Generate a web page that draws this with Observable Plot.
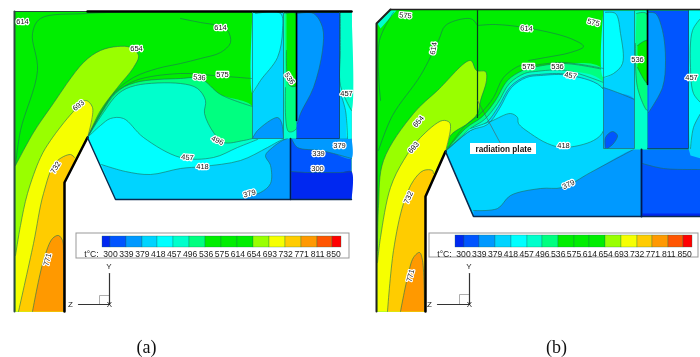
<!DOCTYPE html>
<html><head><meta charset="utf-8">
<style>html,body{margin:0;padding:0;background:#fff;width:700px;height:357px;overflow:hidden}svg{display:block;filter:blur(0.4px)}</style>
<script src="https://cdn.jsdelivr.net/npm/d3@7"></script>
<script src="https://cdn.jsdelivr.net/npm/@observablehq/plot@0.6"></script>
</head><body><script>
const levels = [300,339,379,418,457,496,536,575,614,654,693,732,771,811,850];
const swatchColors = ["#0028f0","#0055ff","#0099ff","#00d4ff","#00ffff","#00ffcc","#00ff80","#00ee00","#00ee00","#00ee00","#99ff00","#f6ff00","#ffcc00","#ff9900","#ff5500","#ff0000"];
const [c300,c339,c379,c418,c457,c496,c536,c575,,,c654,c693,c732,c771] = swatchColors;
const cUpperB = "#0077ff";

const swatchEdgesA = [102,110,126,142,157,173,189,205,221,237,253,269,285,301,317,332,341];
const swatchEdgesB = [455,464,479,495,511,527,542,558,574,589,605,621,637,652,668,683,692];

// Panel (a): filled bands, painted in order [colour, contour points, corner points]
const bandsA = [
 [c575, [], [[14,11],[351,11],[351,199],[115,199],[87,137],[64,182],[64,311],[14,311]]],
 [c654, [[15,165],[33,132],[50,107],[83,62],[100,50],[117,46],[130,47],[138,55],[133,67],[117,87],[100,110],[87,137]], [[64,182],[64,311],[15,311]]],
 [c693, [[15,255],[20,225],[27,193],[40,157],[50,140],[72,112],[85,100],[92,107],[87,137]], [[64,182],[64,311],[15,311]]],
 [c732, [[18,311],[33,243],[43,193],[55,162],[70,154],[74,157]], [[64,182],[64,311]]],
 [c771, [[32,311],[43,260],[52,238],[58,235],[62,240],[63,253],[63,311]], []],
 [c536, [[87,137],[102,110],[115,92],[135,82],[180,78],[200,78],[220,94],[252,106]], [[252,138],[290,138],[290,199],[115,199]]],
 [c496, [[87,137],[103,112],[118,93],[135,85],[180,83],[197,88],[205,100],[204,113],[213,132],[223,142],[243,140],[252,138]], [[290,138],[290,199],[115,199]]],
 [c457, [[87,137],[100,125],[110,118],[123,118],[143,137],[180,157],[213,157],[237,147],[257,139]], [[290,138],[290,199],[115,199]]],
 [c418, [[101,164],[125,171],[150,174],[180,168],[202,166],[240,160],[267,147],[280,140],[287,138]], [[290,138],[290,199],[115,199]]],
 [c379, [[243,197],[260,192],[270,183],[270,165],[265,155],[272,147],[282,140],[287,138]], [[290,138],[290,199],[243,199]]],
 [c339, [], [[290,138],[351,138],[351,199],[290,199]]],
 [c379, [[292,140],[297,147],[320,150],[333,153],[351,158]], [[351,138],[292,138]]],
 [c300, [[291,171],[307,172],[323,172],[340,172],[351,171]], [[351,199],[291,199]]],
 [c418, [], [[252,12],[283,12],[283,138],[252,138]]],
 [c457, [[255,13],[280,13],[282,30],[277,57],[260,80],[252,93]], [[252,12]]],
 [c379, [[252,138],[257,130],[277,117],[281,122],[283,138]], []],
 [c496, [], [[283,12],[296,12],[296,138],[283,138]]],
 [c536, [[284,13],[296,13],[296,128],[288,131],[285,87]], []],
 [c575, [[286,13],[295,13],[296,85],[289,85],[286,50]], []],
 [c339, [], [[296,12],[339,12],[339,138],[296,138]]],
 [c379, [[297,13],[313,13],[322,27],[322,50],[313,87],[300,113],[297,123]], []],
 [c418, [], [[339,12],[351,12],[351,138],[339,138]]],
 [c457, [[339,90],[345,110],[347,138]], [[351,138],[351,12],[339,12]]],
 [c496, [[340,12],[340,50],[340,85],[351,110]], [[351,12]]]
];
// Panel (b)
const bandsB = [
 [c575, [], [[376,23],[390,9],[700,9],[700,216],[473,216],[445,151],[425,196],[425,311],[376,311]]],
 [c496, [], [[377,23],[390,10],[396,10],[380,28]]],
 [c654, [[377,250],[378,205],[383,160],[413,113],[437,90],[470,60],[476,70],[485,71],[486,80],[480,100],[477,113],[467,123],[450,135],[445,151]], [[425,196],[425,311],[376,311]]],
 [c693, [[377,262],[380,237],[390,187],[403,160],[420,137],[442,120],[449,122],[450,128],[445,151]], [[425,196],[425,311],[377,311]]],
 [c732, [[387,311],[393,250],[403,203],[413,180],[423,170],[432,170],[433,173]], [[425,196],[425,311]]],
 [c771, [[400,311],[407,277],[413,257],[419,252],[422,260],[424,311]], []],
 [c536, [[445,151],[465,128],[482,116],[495,100],[507,80],[522,70],[532,67],[563,63],[603,69]], [[603,149],[641,149],[641,216],[473,216]]],
 [c496, [[445,151],[470,128],[484,119],[497,103],[509,83],[524,73],[535,71],[565,70],[603,82]], [[603,149],[641,149],[641,216],[473,216]]],
 [c418, [[445,151],[470,130],[486,122],[498,106],[510,86],[525,76],[538,74],[568,74],[603,88]], [[603,149],[641,149],[641,216],[473,216]]],
 [c457, [[448,148],[470,130],[487,124],[499,108],[511,87],[526,77],[540,75],[570,75],[603,89],[603,130],[593,140],[563,147],[547,143],[530,133],[518,123],[517,117],[510,113],[490,121],[470,128]], []],
 [c379, [[473,210],[497,208],[510,195],[540,188],[562,187],[590,172],[633,149]], [[641,149],[641,216],[473,216]]],
 [c339, [], [[641,149],[700,149],[700,216],[641,216]]],
 [cUpperB, [[642,163],[663,168],[697,169],[700,169]], [[700,149],[642,149]]],
 [c300, [], [[642,213],[700,213],[700,216],[642,216]]],
 [c418, [], [[603,10],[634,10],[634,149],[603,149]]],
 [c457, [[605,12],[615,13],[620,33],[622,63],[613,73],[603,77]], [[603,10]]],
 [c379, [[603,87],[617,92],[634,99]], [[634,148],[603,148]]],
 [c339, [[605,148],[605,137],[612,131],[617,135],[613,143],[607,148]], []],
 [c496, [], [[634,10],[647,10],[647,149],[634,149]]],
 [c536, [[636,13],[646,13],[647,110],[637,87],[635,43]], []],
 [c575, [[637,45],[647,40],[647,83],[637,67]], []],
 [c339, [], [[647,10],[688,10],[688,148],[647,148]]],
 [c379, [[648,12],[655,13],[662,30],[665,60],[662,87],[648,112]], []],
 [c418, [], [[688,10],[700,10],[700,158],[690,155],[688,148]]],
 [c457, [[700,113],[693,127],[690,148]], [[688,10],[700,10]]],
 [c496, [[700,18],[692,30],[690,67],[693,93],[700,102]], []]
];
// Contour lines without a colour change
const extraLines = [
 [[15,165],[20,130],[37,70],[32,33],[40,18],[87,13],[140,11]],
 [[87,137],[100,113],[113,93],[133,77],[157,68],[180,63],[200,58],[220,52],[230,42],[227,30],[217,25],[200,22],[180,18]],
 [[87,137],[102,111],[115,93],[135,80],[180,73],[213,75],[251,78]],
 [[378,150],[392,115],[420,75],[438,40],[445,25],[465,18],[472,19],[477,25]],
 [[477,25],[495,24],[530,28],[570,38],[583,46],[570,52],[545,57],[528,60]],
 [[445,151],[463,127],[480,113],[493,97],[503,77],[520,65],[530,65],[563,62],[603,68]],
 [[380,100],[379,40],[393,12]]
];
// Walls: [points, colour, width]
const wallsA = [
 [[[14,11],[14,311]], "#2c4a40", 2],
 [[[14,11],[87,11]], "#2c4a40", 1],
 [[[87,11],[351,11]], "#000", 2.5],
 [[[64,311],[64,182],[87,137]], "#000", 2.5],
 [[[87,137],[115,199],[351,199]], "#0a2a50", 1.4],
 [[[290,138],[290,199]], "#001a50", 1.6],
 [[[296,12],[296,120]], "#000", 1.6],
 [[[252,12],[252,138],[283,138],[283,12]], "#1f7a7a", 0.8],
 [[[296,138],[339,138],[339,12]], "#0a3a70", 0.8]
];
const wallsB = [
 [[[390,9],[376,23],[376,311]], "#222", 2],
 [[[390,9],[700,9]], "#222", 1.6],
 [[[425,311],[425,196],[445,151]], "#000", 2.5],
 [[[445,151],[473,216],[700,216]], "#0a2a50", 1.6],
 [[[641,149],[641,216]], "#001a50", 1.8],
 [[[477,10],[477,117]], "#0a3a20", 1.2],
 [[[647,10],[647,84]], "#000", 1.6],
 [[[603,10],[603,148],[634,148],[634,10]], "#1f7a7a", 0.8],
 [[[647,148],[688,148],[688,10]], "#0a3a70", 0.8],
 [[[477,100],[500,143]], "#555", 0.6]
];
const contourLabels = [
 ["614",22,21,0],["654",136,48,0],["693",78,105,-40],["614",220,27,0],["536",199,77,5],["575",222,74,0],
 ["496",217,140,25],["457",187,157,5],["418",202,166,0],["379",249,193,-15],["732",55,167,-60],["771",47,259,-75],
 ["339",318,153,0],["300",317,168,0],["379",339,145,0],["457",346,93,0],["536",289,78,55],
 ["575",405,15,5],["614",433,48,-80],["654",418,121,-50],["693",413,147,-50],["614",526,28,5],["575",528,66,0],
 ["575",593,22,15],["536",557,66,0],["457",570,75,10],["536",637,59,0],["457",691,77,0],["418",563,145,0],
 ["379",568,184,-25],["732",408,197,-65],["771",410,275,-75]
];
const legendBoxes = [[76,349,233,258],[429,698,233,257]];
const legendLabelStart = [110,463], legendLabelStep = [15.93,15.79];
const tripods = [[109,78,99,273,304,295],[469,437,459,273,304,294]];
const captions = [["(a)",146,347],["(b)",556,347]];

const curve = "catmull-rom";
const X = d => d[0], Y = d => d[1];
const bandMarks = bands => bands.flatMap(([color, edge, corners]) => {
  const pts = [...edge, ...corners.flatMap(p => [p, p])];
  const out = [Plot.line(pts, {x: X, y: Y, fill: color, stroke: "none", curve: edge.length ? curve : "linear"})];
  if (edge.length) out.push(Plot.line(edge, {x: X, y: Y, stroke: "#1d6e58", strokeWidth: 0.7, strokeOpacity: 0.85, curve}));
  return out;
});
const wallMarks = walls => walls.map(([pts, color, w]) => Plot.line(pts, {x: X, y: Y, stroke: color, strokeWidth: w, strokeLinejoin: "miter", curve: "linear"}));
const font = "Liberation Sans, Arial, sans-serif";

const swatchRows = (edges, y1, y2) => swatchColors.map((c, i) => ({x1: edges[i], x2: edges[i + 1], y1, y2, c}));
const legendMarks = (k, edges, y1, y2) => {
  const [bx1, bx2, by1, by2] = legendBoxes[k];
  return [
    Plot.rect([0], {x1: bx1, x2: bx2, y1: by1, y2: by2, fill: "#fff", stroke: "#999", strokeWidth: 1}),
    Plot.rect(swatchRows(edges, y1, y2), {x1: "x1", x2: "x2", y1: "y1", y2: "y2", fill: "c", stroke: "#1a6a50", strokeWidth: 0.3}),
    Plot.text(levels, {x: (d, i) => legendLabelStart[k] + i * legendLabelStep[k], y: 254, text: d => String(d), fontSize: 8.6, fontFamily: font, fill: "#222"}),
    Plot.text(["t°C:"], {x: legendLabelStart[k] - 19, y: 254, text: d => d, fontSize: 8.6, fontFamily: font, fill: "#222"})
  ];
};
const tripodMarks = tripods.flatMap(([x, xl, xb, yt, yb, ybx]) => [
  Plot.line([[xb, yb], [xb, ybx], [x, ybx]], {x: X, y: Y, stroke: "#999", strokeWidth: 0.8}),
  Plot.line([[x, yt], [x, yb]], {x: X, y: Y, stroke: "#333", strokeWidth: 1.2}),
  Plot.line([[xl, yb], [x, yb]], {x: X, y: Y, stroke: "#333", strokeWidth: 1.2}),
  Plot.text(["Y"], {x: x - 0.5, y: yt - 7, text: d => d, fontSize: 8, fontFamily: font, fill: "#222"}),
  Plot.text(["Z"], {x: xl - 8, y: yb, text: d => d, fontSize: 8, fontFamily: font, fill: "#222"}),
  Plot.text(["X"], {x: x, y: yb, text: d => d, fontSize: 8, fontFamily: font, fill: "#222"})
]);

const chart = Plot.plot({
  width: 700, height: 357, margin: 0,
  style: {background: "#fff"},
  x: {domain: [0, 700], range: [0, 700], axis: null},
  y: {domain: [0, 357], range: [0, 357], axis: null},
  marks: [
    ...bandMarks(bandsA),
    ...bandMarks(bandsB),
    ...extraLines.map(l => Plot.line(l, {x: X, y: Y, stroke: "#1d6e58", strokeWidth: 0.7, strokeOpacity: 0.85, curve})),
    ...wallMarks(wallsA),
    ...wallMarks(wallsB),
    Plot.text(contourLabels, {x: d => d[1], y: d => d[2], text: d => d[0], rotate: d => d[3], fontSize: 7.5, fontFamily: font, fill: "#111", stroke: "#fff", strokeWidth: 2.5}),
    Plot.rect([0], {x1: 470, x2: 536, y1: 143, y2: 154, fill: "#fff"}),
    Plot.text(["radiation plate"], {x: 503, y: 148.5, text: d => d, fontSize: 8.2, fontWeight: "bold", fontFamily: font, fill: "#111"}),
    ...legendMarks(0, swatchEdgesA, 236, 247),
    ...legendMarks(1, swatchEdgesB, 235, 247),
    ...tripodMarks,
    Plot.text(captions, {x: d => d[1], y: d => d[2], text: d => d[0], fontSize: 18, fontFamily: "Liberation Serif, serif", fill: "#111"})
  ]
});
document.body.appendChild(chart);
</script></body></html>
